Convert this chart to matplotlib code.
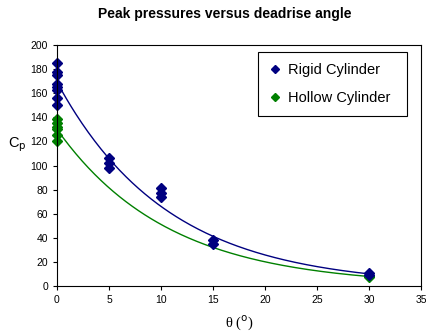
import numpy as np
import matplotlib.pyplot as plt

plt.rcParams['font.family'] = ['Liberation Sans', 'DejaVu Sans']

# rigid cylinder measurements
rigid_theta = [0, 0, 0, 0, 0, 0, 0, 0, 5, 5, 5, 10, 10, 10, 15, 15, 30, 30]
rigid_cp = [185, 178, 175, 168, 165, 163, 156, 150, 106, 102, 98, 81, 77, 74, 38, 35, 10.5, 9.5]
# hollow cylinder measurements
hollow_theta = [0, 0, 0, 0, 0, 0, 30, 30]
hollow_cp = [139, 135, 132, 130, 125, 120, 8.3, 7.5]

blue = '#000080'
green = '#008000'

fig = plt.figure(figsize=(4.26, 3.33), dpi=100)
ax = fig.add_axes([0.1338, 0.1411, 0.8545, 0.7238])

# exponential trendlines (least squares on log)
tt = np.linspace(0, 30, 200)
kr = np.polyfit(rigid_theta, np.log(rigid_cp), 1)
kh = np.polyfit(hollow_theta, np.log(hollow_cp), 1)
ax.plot(tt, np.exp(np.polyval(kr, tt)), color=blue, lw=1)
ax.plot(tt, np.exp(np.polyval(kh, tt)), color=green, lw=1)

ax.plot(hollow_theta, hollow_cp, 'D', color=green, ms=5, label='Hollow Cylinder', clip_on=False)
ax.plot(rigid_theta, rigid_cp, 'D', color=blue, ms=5, label='Rigid Cylinder', clip_on=False)

ax.set_xlim(0, 35)
ax.set_ylim(0, 200)
ax.set_xticks(range(0, 36, 5))
ax.set_yticks(range(0, 201, 20))
ax.tick_params(labelsize=7.5, length=3, width=0.8, direction='out')
for s in ax.spines.values():
    s.set_linewidth(0.8)

fig.suptitle('Peak pressures versus deadrise angle', fontsize=10, fontweight='bold', x=0.528, y=0.978)
ax.set_ylabel('C$_\\mathrm{p}$', fontsize=10.5, rotation=0, va='center', ha='left')
ax.yaxis.set_label_coords(-0.135, 0.585)
ax.set_xlabel('θ ($^\\mathrm{o}$)', fontsize=10.5, family='Liberation Serif', labelpad=6)

h, l = ax.get_legend_handles_labels()
leg = ax.legend(h[::-1], l[::-1], loc='upper left', bbox_to_anchor=(0.553, 0.970, 0.408, 0.0),
                mode='expand', fontsize=10.5, markerscale=0.8, handlelength=0.8, handletextpad=0.5,
                labelspacing=0.95, borderpad=0.75, borderaxespad=0, fancybox=False,
                framealpha=1, edgecolor='black')
leg.get_frame().set_linewidth(0.8)

fig.savefig('out.png', dpi=100)
